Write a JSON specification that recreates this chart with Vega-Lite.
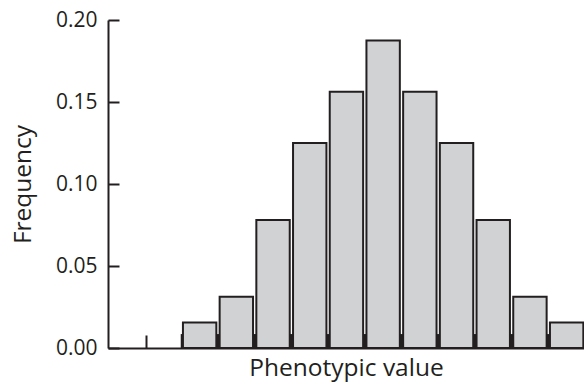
{
  "$schema": "https://vega.github.io/schema/vega-lite/v6.json",
  "width": 476,
  "height": 328,
  "autosize": "none",
  "padding": {"left": 108, "top": 20, "right": 0, "bottom": 37},
  "background": "white",
  "config": {
    "view": {"stroke": null},
    "font": "Open Sans",
    "axis": {
      "domainColor": "#231f20",
      "domainWidth": 2,
      "tickColor": "#231f20",
      "tickWidth": 2,
      "labelColor": "#231f20",
      "titleColor": "#231f20",
      "labelFont": "Open Sans",
      "titleFont": "Open Sans",
      "labelFontSize": 21,
      "titleFontSize": 24.5,
      "titleFontWeight": "normal",
      "grid": false
    }
  },
  "datasets": {
    "bars": [
      {"bin": 1, "start": 1.02, "end": 1.93, "freq": 0.015625},
      {"bin": 2, "start": 2.02, "end": 2.93, "freq": 0.03125},
      {"bin": 3, "start": 3.02, "end": 3.93, "freq": 0.078125},
      {"bin": 4, "start": 4.02, "end": 4.93, "freq": 0.125},
      {"bin": 5, "start": 5.02, "end": 5.93, "freq": 0.15625},
      {"bin": 6, "start": 6.02, "end": 6.93, "freq": 0.1875},
      {"bin": 7, "start": 7.02, "end": 7.93, "freq": 0.15625},
      {"bin": 8, "start": 8.02, "end": 8.93, "freq": 0.125},
      {"bin": 9, "start": 9.02, "end": 9.93, "freq": 0.078125},
      {"bin": 10, "start": 10.02, "end": 10.93, "freq": 0.03125},
      {"bin": 11, "start": 11.02, "end": 11.93, "freq": 0.015625}
    ],
    "marks": [
      {"start": 0.96, "end": 1.06, "freq": 0.0085},
      {"start": 1.9, "end": 2.06, "freq": 0.0085},
      {"start": 2.9, "end": 3.06, "freq": 0.0085},
      {"start": 3.9, "end": 4.06, "freq": 0.0085},
      {"start": 4.9, "end": 5.06, "freq": 0.0085},
      {"start": 5.9, "end": 6.06, "freq": 0.0085},
      {"start": 6.9, "end": 7.06, "freq": 0.0085},
      {"start": 7.9, "end": 8.06, "freq": 0.0085},
      {"start": 8.9, "end": 9.06, "freq": 0.0085},
      {"start": 9.9, "end": 10.06, "freq": 0.0085},
      {"start": 10.9, "end": 11.06, "freq": 0.0085}
    ]
  },
  "layer": [
    {
      "data": {"name": "marks"},
      "mark": {"type": "rect", "color": "#231f20"},
      "encoding": {
        "x": {
          "field": "start", "type": "quantitative",
          "scale": {"domain": [-1.022, 11.948], "nice": false, "zero": false},
          "axis": {
            "values": [0], "labels": false, "tickSize": -13,
            "title": "Phenotypic value", "titlePadding": 7
          }
        },
        "x2": {"field": "end"},
        "y": {
          "field": "freq", "type": "quantitative",
          "scale": {"domain": [0, 0.2], "nice": false},
          "axis": {
            "values": [0, 0.05, 0.1, 0.15, 0.2], "format": ".2f",
            "tickSize": -11, "labelPadding": 22,
            "title": "Frequency", "titlePadding": 20
          }
        },
        "y2": {"datum": 0}
      }
    },
    {
      "data": {"name": "bars"},
      "mark": {"type": "rect", "fill": "#d1d2d4", "stroke": "#231f20", "strokeWidth": 2},
      "encoding": {
        "x": {"field": "start", "type": "quantitative"},
        "x2": {"field": "end"},
        "y": {"field": "freq", "type": "quantitative"},
        "y2": {"datum": 0}
      }
    }
  ]
}
